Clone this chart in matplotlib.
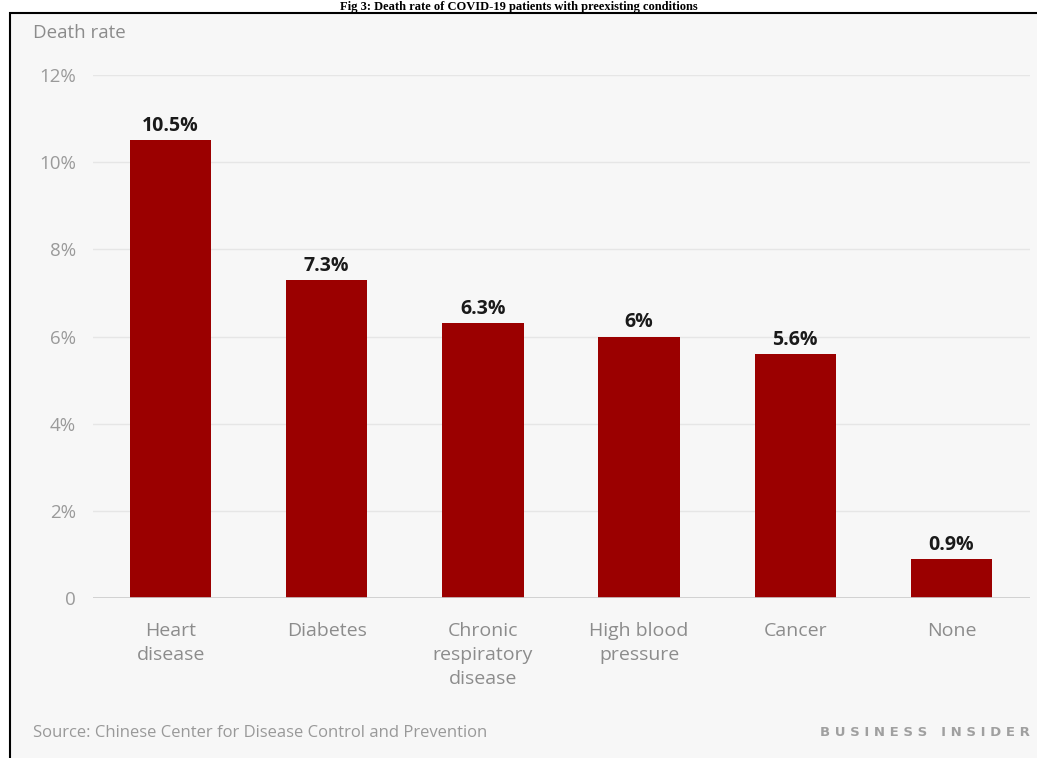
import matplotlib.pyplot as plt
from matplotlib.patches import Rectangle

# data
categories = ['Heart\ndisease', 'Diabetes', 'Chronic\nrespiratory\ndisease',
              'High blood\npressure', 'Cancer', 'None']
death_rate = [10.5, 7.3, 6.3, 6.0, 5.6, 0.9]
value_labels = ['10.5%', '7.3%', '6.3%', '6%', '5.6%', '0.9%']
y_ticks = [0, 2, 4, 6, 8, 10, 12]
y_tick_labels = ['0', '2%', '4%', '6%', '8%', '10%', '12%']

W, H = 1037, 758
fig = plt.figure(figsize=(W / 100, H / 100), dpi=100)
fig.patch.set_facecolor('white')

# grey panel with black frame
fig.patches.append(Rectangle((10 / W, -0.05), 1.1, 1 - 13 / H + 0.05,
                             transform=fig.transFigure, facecolor='#f7f7f7',
                             edgecolor='black', linewidth=1.5, zorder=-5))

ax = fig.add_axes([92.5 / W, 1 - 598 / H, 937 / W, (598 - 75) / H])
ax.set_facecolor('none')
ax.set_zorder(2)

x = range(len(categories))
bars = ax.bar(x, death_rate, width=0.52, color='#9b0000', zorder=3)
for xi, v, lab in zip(x, death_rate, value_labels):
    ax.annotate(lab, (xi, v), xytext=(0, 3), textcoords='offset points',
                ha='center', va='bottom', fontsize=14, fontweight='bold',
                color='#1a1a1a', family='Open Sans')

ax.set_xlim(-0.5, 5.5)
ax.set_ylim(0, 12)
ax.set_yticks(y_ticks)
ax.set_yticklabels(y_tick_labels, fontsize=13.5, color='#9a9a9a', family='Open Sans')
ax.set_xticks(list(x))
ax.set_xticklabels(categories, fontsize=14, color='#8c8c8c', family='Open Sans',
                   linespacing=1.45, va='top')
ax.tick_params(axis='both', length=0)
ax.tick_params(axis='x', pad=17)
ax.tick_params(axis='y', pad=12)
for s in ax.spines.values():
    s.set_visible(False)
ax.grid(axis='y', color='#e6e6e6', linewidth=1, zorder=0)
ax.axhline(0, color='#cccccc', linewidth=1.2, zorder=4)

fig.text(33 / W, 1 - 33 / H, 'Death rate', fontsize=13.5, color='#8c8c8c',
         family='Open Sans', va='center', ha='left')
fig.text(33 / W, 1 - 733 / H, 'Source: Chinese Center for Disease Control and Prevention',
         fontsize=12, color='#999999', family='Open Sans', va='center', ha='left')
fig.text(1030 / W, 1 - 733 / H, 'B U S I N E S S   I N S I D E R', fontsize=9.5,
         color='#a0a0a0', family='DejaVu Sans', fontweight='bold', va='center', ha='right')
fig.text(0.5, 1 - 1 / H,
         'Fig 3: Death rate of COVID-19 patients with preexisting conditions',
         fontsize=9, fontweight='bold', family='Liberation Serif', ha='center',
         va='top', color='black')

fig.savefig('out.png', dpi=100)
